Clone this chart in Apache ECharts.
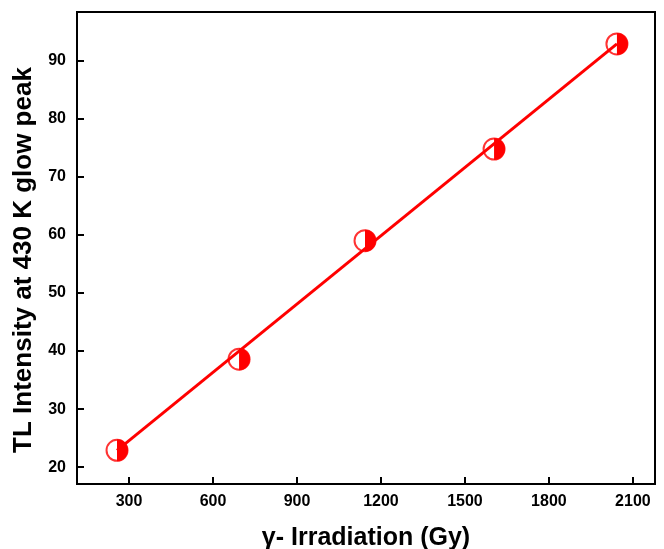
<!DOCTYPE html>
<html>
<head>
<meta charset="utf-8">
<script src="https://cdn.jsdelivr.net/npm/echarts@6/dist/echarts.min.js"></script>
<style>
  html, body { margin: 0; padding: 0; background: #fff; }
  #chart { width: 664px; height: 549px; }
</style>
</head>
<body>
<div id="chart"></div>
<script>
// dose (Gy) and TL intensity
const doses = [257, 693, 1143, 1604, 2043];
const intensity = [22.9, 38.6, 59.0, 74.8, 92.9];
// ends of the linear fit line
const fitDose = [257, 2043];
const fitIntensity = [22.9, 92.9];
const xTicks = [300, 600, 900, 1200, 1500, 1800, 2100];
const yTicks = [20, 30, 40, 50, 60, 70, 80, 90];

const points = doses.map((d, i) => [d, intensity[i]]);
const fitLine = fitDose.map((d, i) => [d, fitIntensity[i]]);
const red = '#ff0000';
const tickFont = {
    fontFamily: 'Liberation Sans',
    fontWeight: 'bold',
    fontSize: 16,
    color: '#000',
};

const chart = echarts.init(document.getElementById('chart'));
chart.setOption({
    animation: false,
    grid: {
        left: 77,
        right: 9,
        top: 12,
        bottom: 65,
        outerBoundsMode: 'none',
        containLabel: false,
        show: true,
        borderColor: '#000',
        borderWidth: 2,
    },
    xAxis: {
        type: 'value',
        min: 114,
        max: 2179,
        name: 'γ- Irradiation (Gy)',
        nameLocation: 'middle',
        nameGap: 42,
        nameTextStyle: {
            fontFamily: 'Liberation Sans',
            fontWeight: 'bold',
            fontSize: 25,
            color: '#000',
        },
        splitLine: { show: false },
        axisLine: { lineStyle: { color: '#000', width: 2 } },
        axisTick: {
            inside: true,
            length: 7,
            lineStyle: { color: '#000', width: 2 },
            customValues: xTicks,
        },
        axisLabel: {
            ...tickFont,
            margin: 10,
            customValues: xTicks,
            formatter: (v) => String(v),
        },
    },
    yAxis: {
        type: 'value',
        min: 17.1,
        max: 98.4,
        name: 'TL Intensity at 430 K glow peak',
        nameLocation: 'middle',
        nameGap: 36,
        nameTextStyle: {
            fontFamily: 'Liberation Sans',
            fontWeight: 'bold',
            fontSize: 26,
            color: '#000',
            padding: [0, 24, 0, 0],
        },
        splitLine: { show: false },
        axisLine: { lineStyle: { color: '#000', width: 2 } },
        axisTick: {
            inside: true,
            length: 7,
            lineStyle: { color: '#000', width: 2 },
            customValues: yTicks,
        },
        axisLabel: { ...tickFont, margin: 11, customValues: yTicks },
    },
    series: [
        {
            type: 'line',
            data: fitLine,
            symbol: 'none',
            lineStyle: { color: red, width: 3 },
            z: 2,
        },
        {
            // open circle outline
            type: 'scatter',
            data: points,
            symbol: 'circle',
            symbolSize: 21,
            itemStyle: { color: 'rgba(0,0,0,0)', borderColor: red, borderWidth: 2 },
            z: 3,
        },
        {
            // right half of each marker is filled
            type: 'scatter',
            data: points,
            symbol: 'path://M0,0 A10,10 0 0,1 0,20 Z',
            symbolSize: [11, 22],
            symbolOffset: [5.5, 0],
            itemStyle: { color: red, opacity: 1 },
            z: 4,
        },
    ],
});
</script>
</body>
</html>
